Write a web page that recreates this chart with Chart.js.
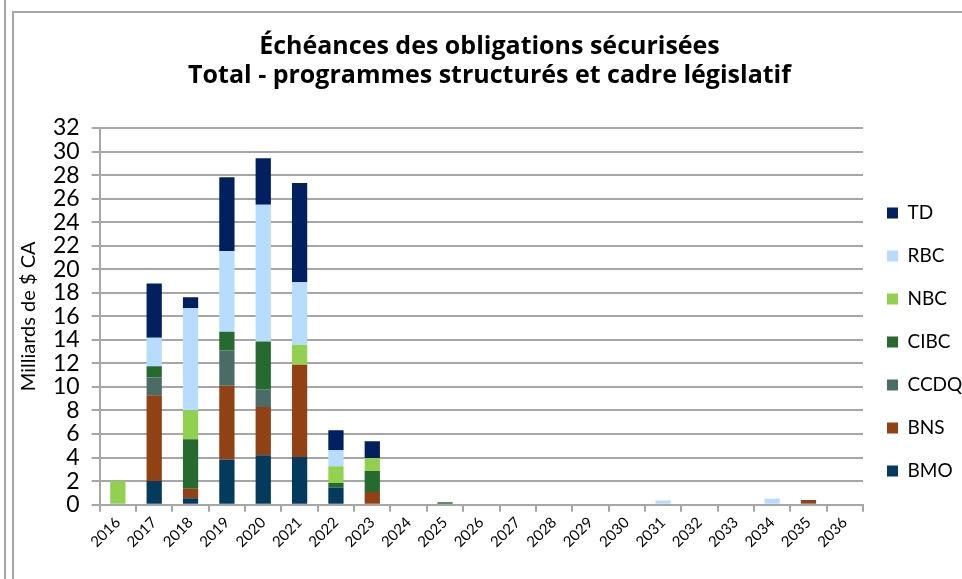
<!DOCTYPE html>
<html>
<head>
<meta charset="utf-8">
<script src="https://cdn.jsdelivr.net/npm/chart.js@4/dist/chart.umd.min.js"></script>
<style>
  html, body { margin: 0; padding: 0; background: #fff; }
  #wrap { position: relative; width: 962px; height: 579px; overflow: hidden; }
  #c { position: absolute; left: 0; top: 0; }
  .line1 { position: absolute; left: 4px; top: 0; width: 2px; height: 579px; background: #a6a6a6; }
  .frame { position: absolute; left: 12px; top: 11px; width: 980px; height: 600px; border-left: 2px solid #a6a6a6; border-top: 2px solid #a6a6a6; }
</style>
</head>
<body>
<div id="wrap">
  <div class="line1"></div>
  <div class="frame"></div>
  <canvas id="c" width="962" height="579"></canvas>
</div>
<script>
const years = ["2016","2017","2018","2019","2020","2021","2022","2023","2024","2025","2026","2027","2028","2029","2030","2031","2032","2033","2034","2035","2036"];
//            2016  2017  2018  2019  2020  2021  2022  2023  2024  2025  2026  2027  2028  2029  2030  2031  2032  2033  2034  2035  2036
const BMO  = [null, 2.0,  0.54, 3.83, 4.2,  4.05, 1.45, null, null, null, null, null, null, null, null, null, null, null, null, 0.1,  null];
const BNS  = [null, 7.3,  0.82, 6.27, 4.1,  7.83, null, 1.07, null, null, null, null, null, null, null, null, null, null, null, 0.3,  null];
const CCDQ = [null, 1.5,  null, 3.0,  1.5,  null, null, null, null, null, null, null, null, null, null, null, null, null, null, null, null];
const CIBC = [null, 0.95, 4.2,  1.58, 4.06, null, 0.39, 1.79, null, 0.2,  null, null, null, null, null, null, null, null, null, null, null];
const NBC  = [2.0,  null, 2.47, null, null, 1.68, 1.42, 1.11, null, null, null, null, null, null, null, null, null, null, null, null, null];
const RBC  = [null, 2.43, 8.65, 6.87, 11.63,5.33, 1.36, null, null, null, null, null, null, null, null, 0.35, null, null, 0.5,  null, 0.07];
const TD   = [null, 4.6,  0.94, 6.27, 3.95, 8.43, 1.7,  1.42, null, null, null, null, null, null, null, null, null, null, null, null, null];
const yTicks = [0,2,4,6,8,10,12,14,16,18,20,22,24,26,28,30,32];

const seriesNames = ["BMO","BNS","CCDQ","CIBC","NBC","RBC","TD"];
const seriesData = [BMO, BNS, CCDQ, CIBC, NBC, RBC, TD];
const seriesColors = ["#043a5c","#914214","#4a6b66","#276a2f","#92d050","#b7dcfd","#021f5f"];

const FONT = "Lato, 'Open Sans', sans-serif";

new Chart(document.getElementById("c"), {
  type: "bar",
  data: {
    labels: years,
    datasets: seriesNames.map((n, i) => ({
      label: n,
      data: seriesData[i],
      backgroundColor: seriesColors[i],
      borderWidth: 0,
      barPercentage: 0.42,
      categoryPercentage: 1.0
    }))
  },
  options: {
    responsive: false,
    animation: false,
    layout: { padding: { left: 17, right: 0, top: 32, bottom: 26 } },
    plugins: {
      title: {
        display: true,
        text: ["Échéances des obligations sécurisées", "Total - programmes structurés et cadre législatif"],
        color: "#000",
        font: { family: "'Open Sans', Lato, sans-serif", size: 25, weight: "bold", lineHeight: 1.16 },
        padding: { top: 0, bottom: 38 }
      },
      legend: {
        position: "right",
        reverse: true,
        maxWidth: 99,
        title: { display: true, text: " ", font: { size: 10, lineHeight: 1.2 }, padding: { top: 0, bottom: 87 } },
        labels: {
          color: "#000",
          font: { family: FONT, size: 19 },
          boxWidth: 11,
          boxHeight: 11,
          padding: 24
        }
      },
      tooltip: { enabled: false }
    },
    scales: {
      x: {
        stacked: true,
        grid: { display: true, drawOnChartArea: false, drawTicks: true, tickLength: 7, color: "#a6a6a6", lineWidth: 2, offset: true },
        border: { display: true, color: "#a6a6a6", width: 2 },
        ticks: { color: "#000", font: { family: FONT, size: 15 }, minRotation: 45, maxRotation: 45, autoSkip: false, padding: 2 }
      },
      y: {
        stacked: true,
        min: 0, max: 32,
        afterBuildTicks: (ax) => { ax.ticks = yTicks.map(v => ({ value: v })); },
        grid: { color: "#a6a6a6", lineWidth: 2, tickLength: 8 },
        border: { display: true, color: "#a6a6a6", width: 2 },
        ticks: { color: "#000", font: { family: FONT, size: 23 }, autoSkip: false, padding: 12 },
        title: { display: true, text: "Milliards de $ CA", color: "#000", font: { family: FONT, size: 20 }, padding: { top: 0, bottom: 0 } }
      }
    }
  }
});
</script>
</body>
</html>
